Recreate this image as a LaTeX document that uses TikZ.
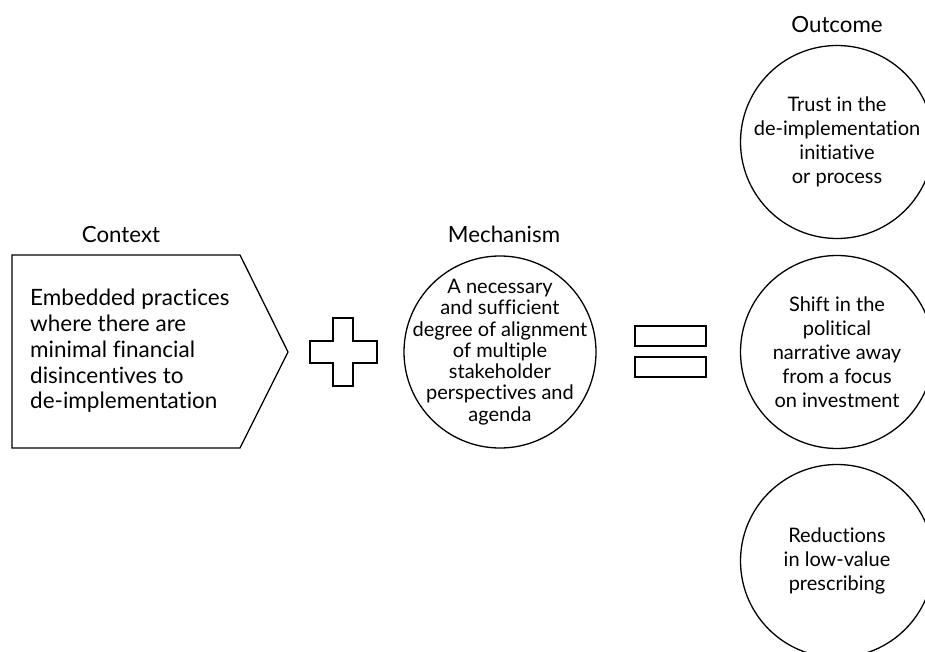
\documentclass[tikz,border=0pt]{standalone}
\usepackage{fontspec}
\setmainfont{Lato}[Ligatures=NoCommon]
\begin{document}
\begin{tikzpicture}[x=1pt,y=-1pt,
  shapeline/.style={draw=black,line width=1.3pt,line join=miter},
  heading/.style={font=\fontsize{22.3}{26}\selectfont,anchor=center,inner sep=0pt},
  ctxtext/.style={font=\fontsize{22.5}{25.7}\selectfont,align=left,anchor=west,inner sep=0pt},
  mechtext/.style={font=\fontsize{20}{21.3}\selectfont,align=center,inner sep=0pt},
  outtext/.style={font=\fontsize{20}{24}\selectfont,align=center,inner sep=0pt},
  outcircle/.style={shapeline,circle,minimum size=193pt,inner sep=0pt}]
\useasboundingbox (0,0) rectangle (925,652);
\clip (0,0) rectangle (925,652);
% headings
\node[heading] (hctx) at (121,235) {Context};
\node[heading] (hmech) at (504,234) {Mechanism};
\node[heading] (hout) at (837,25) {Outcome};
% context shape
\draw[shapeline] (12,255) -- (240,255) -- (288,352) -- (240,448) -- (12,448) -- cycle;
\node[ctxtext] (ctx) at (30,351) {Embedded practices\\where there are\\minimal financial\\disincentives to\\de-implementation};
% plus
\draw[shapeline] (333,318) -- (353,318) -- (353,341) -- (377,341) -- (377,363) -- (353,363) -- (353,386) -- (333,386) -- (333,363) -- (310,363) -- (310,341) -- (333,341) -- cycle;
% mechanism
\node[shapeline,circle,minimum size=192pt,inner sep=0pt] (mech) at (500,352) {};
\node[mechtext] (mechtxt) at (mech.center) {A necessary\\and sufficient\\degree of alignment\\of multiple\\stakeholder\\perspectives and\\agenda};
% equals
\draw[shapeline] (635,326) rectangle (706,346);
\draw[shapeline] (635,357) rectangle (706,377);
% outcomes
\node[outcircle] (o1) at (837,142) {};
\node[outtext] (o1t) at (o1.center) {Trust in the\\de-implementation\\initiative\\or process};
\node[outcircle] (o2) at (837,352) {};
\node[outtext] (o2t) at (o2.center) {Shift in the\\political\\narrative away\\from a focus\\on investment};
\node[outcircle] (o3) at (837,561) {};
\node[outtext] (o3t) at (o3.center) {Reductions\\in low-value\\prescribing};
\end{tikzpicture}
\end{document}
